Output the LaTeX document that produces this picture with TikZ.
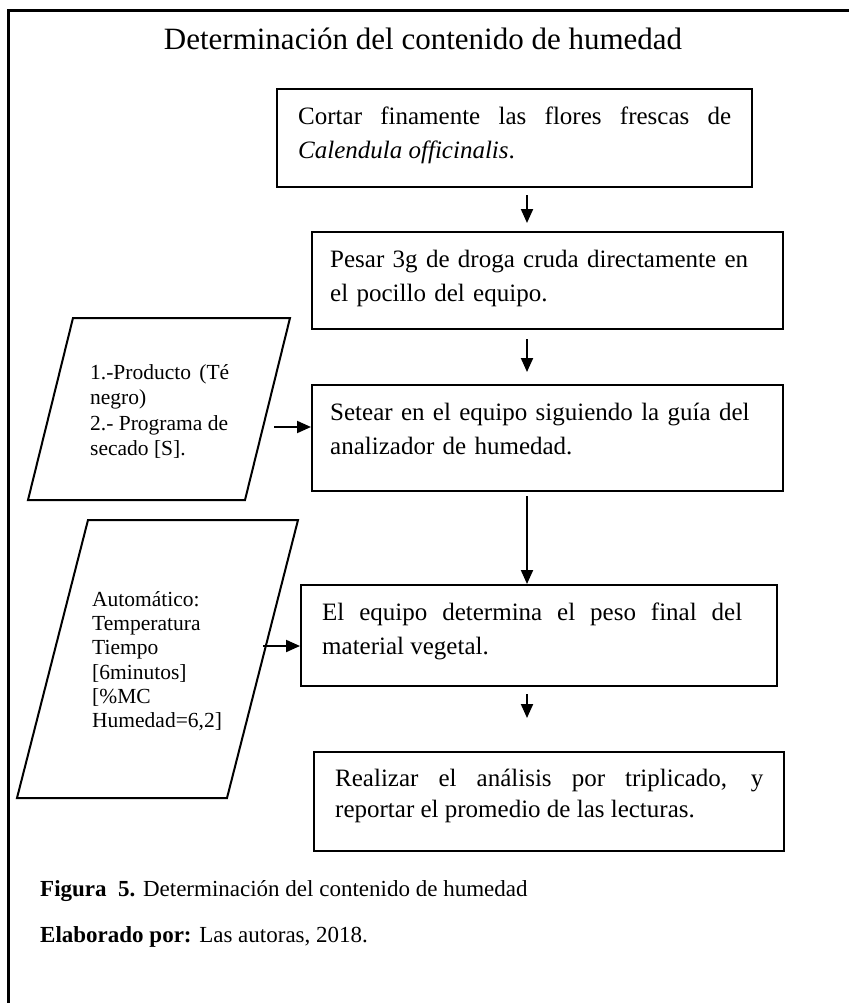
\documentclass[tikz,border=0pt]{standalone}
\usepackage{fontspec}
\setmainfont{Liberation Serif}
\usetikzlibrary{arrows.meta}
\begin{document}
\begin{tikzpicture}[x=1pt,y=-1pt,
  procbox/.style={draw, line width=2.4pt, anchor=north west, inner sep=0pt},
  boxtext/.style={anchor=north west, inner sep=0pt, align=justify,
    font=\fontsize{25}{34}\selectfont, text width=#1},
  datashape/.style={draw, line width=2pt, line join=miter},
  datatext/.style={anchor=north west, inner sep=0pt, align=justify,
    font=\fontsize{21.5}{25.5}\selectfont, text width=#1},
  flow/.style={line width=2pt, -{Triangle[length=14pt,width=12pt]}},
  titletext/.style={inner sep=0pt, anchor=base, font=\fontsize{31}{36}\selectfont},
  captext/.style={inner sep=0pt, anchor=base west, font=\fontsize{23}{28}\selectfont},
]
\useasboundingbox (0,0) rectangle (848,1003);

% outer frame
\draw[line width=3pt] (8.5,1020) |- (870,11);

% title
\node[titletext] (title) at (423,50) {Determinación del contenido de humedad};

% process boxes
\node[procbox, minimum width=475, minimum height=98]  (b1) at (276,88) {};
\node[procbox, minimum width=471, minimum height=97]  (b2) at (311,231) {};
\node[procbox, minimum width=471, minimum height=106] (b3) at (311,384) {};
\node[procbox, minimum width=476, minimum height=101] (b4) at (300,584) {};
\node[procbox, minimum width=470, minimum height=99]  (b5) at (313,751) {};

\node[boxtext=433] (t1) at (298,100.2)
  {\strut Cortar finamente las flores frescas de\linebreak \textit{Calendula officinalis}.};
\node[boxtext=440, align=left] (t2) at (330,243.2)
  {\strut Pesar 3g de droga cruda directamente en\\ el pocillo del equipo.};
\node[boxtext=440, align=left] (t3) at (330,396.2)
  {\strut Setear en el equipo siguiendo la guía del\\ analizador de humedad.};
\node[boxtext=420] (t4) at (322,596.2)
  {\strut El equipo determina el peso final del\linebreak material vegetal.};
\node[boxtext=428, font=\fontsize{25}{31}\selectfont] (t5) at (335,764.3)
  {\strut Realizar el análisis por triplicado, y\linebreak reportar el promedio de las lecturas.};

% input parallelograms
\draw[datashape] (73,318) -- (290,318) -- (245,500) -- (28,500) -- cycle;
\node[datatext=139] (d1) at (90,361)
  {\strut 1.-Producto (Té\linebreak negro)\\ 2.- Programa de\\ secado [S].};

\draw[datashape] (88,520) -- (298,520) -- (227,798) -- (17,798) -- cycle;
\node[datatext=160, align=left, font=\fontsize{21.5}{24.3}\selectfont] (d2) at (92,589)
  {\strut Automático:\\ Temperatura\\ Tiempo\\ {[}6minutos]\\ {[}\%MC\\ Humedad=6,2]};

% connectors
\coordinate (spine) at (527,0);
\coordinate (p1out) at (274,427);
\coordinate (p2out) at (263,646);

\draw[flow, shorten <=7pt, shorten >=8pt] (spine |- b1.south) -- (spine |- b2.north);
\draw[flow, shorten <=9pt, shorten >=12pt] (spine |- b2.south) -- (spine |- b3.north);
\draw[flow, shorten <=4pt] (spine |- b3.south) -- (spine |- b4.north);
\draw[flow, shorten <=7pt, shorten >=33pt] (spine |- b4.south) -- (spine |- b5.north);
\draw[flow] (p1out) -- (p1out -| b3.west);
\draw[flow] (p2out) -- (p2out -| b4.west);

% caption
\node[captext] (cap1) at (40,896) {\textbf{Figura\ \ 5.} Determinación del contenido de humedad};
\node[captext] (cap2) at (40,942) {\textbf{Elaborado por:} Las autoras, 2018.};
\end{tikzpicture}
\end{document}
